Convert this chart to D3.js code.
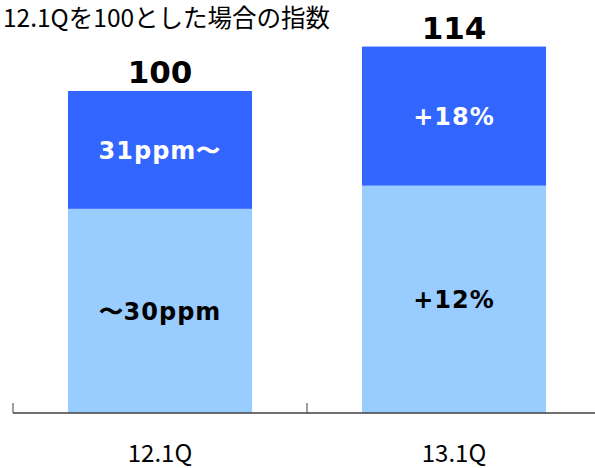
<!DOCTYPE html>
<html><head><meta charset="utf-8">
<script src="https://cdn.jsdelivr.net/npm/d3@7"></script>
<style>html,body{margin:0;padding:0;background:#fff;overflow:hidden}</style>
</head><body>
<svg id="c" width="595" height="468"></svg>
<script>
const categories = ["12.1Q", "13.1Q"];
const baseValues = [63.4, 70.6];
const topValues = [36.6, 43.2];
const totalLabels = ["100", "114"];
const baseLabels = ["〜30ppm", "+12%"];
const topLabels = ["31ppm〜", "+18%"];
const title = "12.1Qを100とした場合の指数";

const svg = d3.select("#c");
const x = d3.scaleBand().domain(categories).range([13, 601]).paddingInner(0.374).paddingOuter(0.187);
const y = d3.scaleLinear().domain([0, 100]).range([413, 91]);
const cjk = "'Noto Sans CJK JP', sans-serif";
const lat = "'DejaVu Sans', sans-serif";

svg.append("text").attr("x", 3).attr("y", 27).attr("font-family", cjk).attr("font-size", 24.5)
  .attr("fill", "#000").text(title);

const g = svg.selectAll("g.bar").data(categories).join("g").attr("class", "bar");
g.append("rect").attr("x", d => x(d)).attr("width", x.bandwidth())
  .attr("y", (d, i) => y(baseValues[i])).attr("height", (d, i) => y(0) - y(baseValues[i]))
  .attr("fill", "#99CCFF");
g.append("rect").attr("x", d => x(d)).attr("width", x.bandwidth())
  .attr("y", (d, i) => y(baseValues[i] + topValues[i])).attr("height", (d, i) => y(baseValues[i]) - y(baseValues[i] + topValues[i]))
  .attr("fill", "#3366FF");
g.append("text").attr("x", d => x(d) + x.bandwidth() / 2)
  .attr("y", (d, i) => (y(0) + y(baseValues[i])) / 2).attr("dy", "0.36em")
  .attr("text-anchor", "middle").attr("font-family", lat).attr("font-weight", "bold")
  .attr("font-size", 24).attr("letter-spacing", 1).attr("fill", "#000").text((d, i) => baseLabels[i]);
g.append("text").attr("x", d => x(d) + x.bandwidth() / 2)
  .attr("y", (d, i) => (y(baseValues[i]) + y(baseValues[i] + topValues[i])) / 2).attr("dy", "0.36em")
  .attr("text-anchor", "middle").attr("font-family", lat).attr("font-weight", "bold")
  .attr("font-size", 24).attr("letter-spacing", 1).attr("fill", "#fff").text((d, i) => topLabels[i]);
g.append("text").attr("x", d => x(d) + x.bandwidth() / 2)
  .attr("y", (d, i) => y(baseValues[i] + topValues[i]) - 8)
  .attr("text-anchor", "middle").attr("font-family", lat).attr("font-weight", "bold")
  .attr("font-size", 31).attr("fill", "#000").text((d, i) => totalLabels[i]);

// axis
const axis = svg.append("g");
axis.append("line").attr("x1", x.range()[0]).attr("x2", x.range()[1]).attr("y1", y(0)).attr("y2", y(0))
  .attr("stroke", "#404040").attr("stroke-width", 1.5);
const bounds = categories.map(c => x(c) - x.step() * x.paddingInner() / 2);
bounds[0] = x.range()[0];
axis.selectAll("line.tick").data(bounds).join("line").attr("class", "tick")
  .attr("x1", d => d).attr("x2", d => d).attr("y1", y(0)).attr("y2", y(0) - 10)
  .attr("stroke", "#404040").attr("stroke-width", 1);
axis.selectAll("text").data(categories).join("text")
  .attr("x", d => x(d) + x.bandwidth() / 2).attr("y", 462)
  .attr("text-anchor", "middle").attr("font-family", cjk).attr("font-size", 24)
  .attr("fill", "#000").text(d => d);
</script>
</body></html>
